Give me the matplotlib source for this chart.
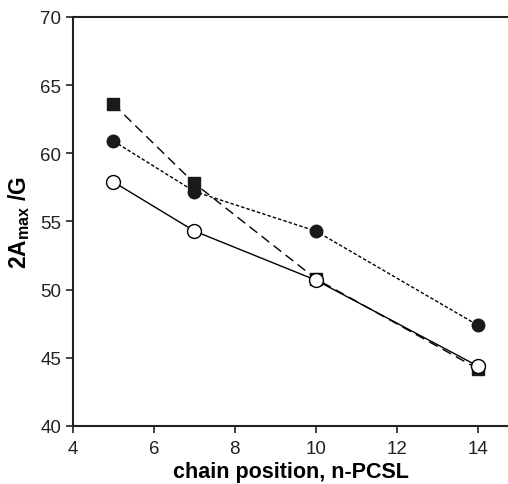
import matplotlib.pyplot as plt

plt.rcParams['font.family'] = ['Liberation Sans', 'DejaVu Sans']

# данные
positions = [5, 7, 10, 14]
open_circles = [57.9, 54.3, 50.7, 44.4]
squares = [63.6, 57.8, 50.8, 44.2]
filled_circles = [60.9, 57.2, 54.3, 47.4]

fig = plt.figure(figsize=(5.08, 4.85), dpi=100)
ax = fig.add_axes([0.1437, 0.1196, 0.8563, 0.8433])

ax.plot(positions, squares, color='black', lw=1.0, linestyle=(0, (7, 4)),
        marker='s', markersize=8, markerfacecolor='#1a1a1a', markeredgecolor='#1a1a1a')
ax.plot(positions, filled_circles, color='black', lw=1.0, linestyle=(0, (2.5, 1.5)),
        marker='o', markersize=9, markerfacecolor='#1a1a1a', markeredgecolor='#1a1a1a')
ax.plot(positions, open_circles, color='black', lw=1.0, linestyle='-',
        marker='o', markersize=10, markerfacecolor='white', markeredgecolor='black',
        markeredgewidth=1.0)

ax.set_xlim(4, 14.75)
ax.set_ylim(40, 70)
ax.set_xticks([4, 6, 8, 10, 12, 14])
ax.set_yticks([40, 45, 50, 55, 60, 65, 70])
ax.tick_params(direction='out', length=5, width=1.2, labelsize=13.5, colors='#222222')
ax.tick_params(axis='x', pad=5)
ax.spines['right'].set_visible(False)
for s in ['left', 'top', 'bottom']:
    ax.spines[s].set_linewidth(1.5)
    ax.spines[s].set_color('#222222')

ax.set_xlabel('chain position, n-PCSL', fontsize=15.5, fontweight='bold', labelpad=3)
ax.set_ylabel(r'2A$_{\mathregular{max}}$ /G', fontsize=16.5, fontweight='bold', labelpad=6)

fig.savefig('out.png', dpi=100)
